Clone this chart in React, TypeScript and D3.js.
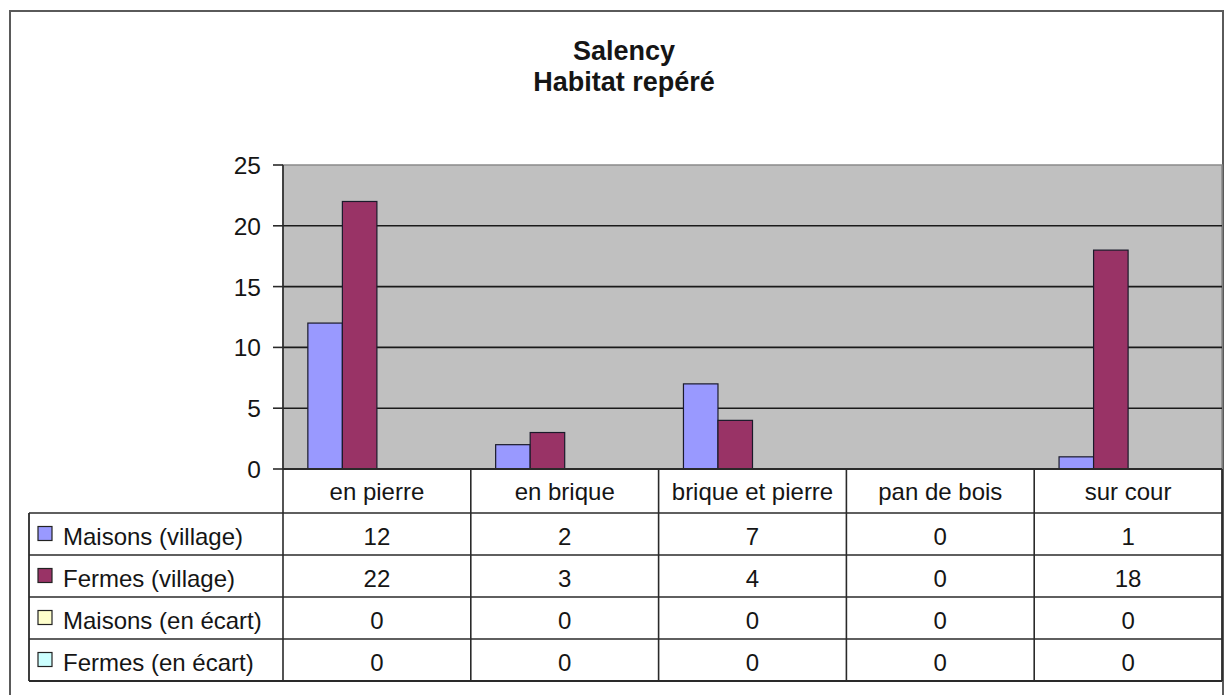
import React from "react";
import * as d3 from "d3";

const titleLines = ["Salency", "Habitat repéré"];
const categories = ["en pierre", "en brique", "brique et pierre", "pan de bois", "sur cour"];
const seriesNames = ["Maisons (village)", "Fermes (village)", "Maisons (en écart)", "Fermes (en écart)"];
const maisonsVillage = [12, 2, 7, 0, 1];
const fermesVillage = [22, 3, 4, 0, 18];
const maisonsEcart = [0, 0, 0, 0, 0];
const fermesEcart = [0, 0, 0, 0, 0];
const yTicks = [0, 5, 10, 15, 20, 25];
const seriesColors = ["#9999ff", "#993366", "#ffffcc", "#ccffff"];

const seriesValues = [maisonsVillage, fermesVillage, maisonsEcart, fermesEcart];

const W = 1226;
const H = 695;
const plot = { left: 283, right: 1222, top: 165, bottom: 469 };
const table = { left: 29, headerBottom: 513, bottom: 681 };
const FONT = "'Liberation Sans', Arial, Helvetica, sans-serif";
const TEXT = "#151515";
const LINE = "#2a2a2a";

export default function App() {
  const x = d3.scaleBand<string>().domain(categories).range([plot.left, plot.right]).padding(0);
  const xs = d3
    .scaleBand<string>()
    .domain(seriesNames)
    .range([0, x.bandwidth()])
    .paddingInner(0)
    .paddingOuter(0.72);
  const y = d3.scaleLinear().domain([0, 25]).range([plot.bottom, plot.top]);
  const rows = d3.scaleBand<string>().domain(seriesNames).range([table.headerBottom, table.bottom]);

  return (
    <svg
      width={W}
      height={H}
      style={{ position: "absolute", left: 0, top: 0, background: "#fff" }}
      fontFamily={FONT}
    >
      {/* outer chart border */}
      <rect x={10} y={11} width={1213} height={700} fill="#fff" stroke="#5a5a5a" strokeWidth={2} />

      {/* title */}
      {titleLines.map((t, i) => (
        <text
          key={t}
          x={624}
          y={60 + i * 31}
          textAnchor="middle"
          fontSize={27}
          fontWeight="bold"
          fill={TEXT}
        >
          {t}
        </text>
      ))}

      {/* plot area */}
      <rect
        x={plot.left}
        y={plot.top}
        width={plot.right - plot.left}
        height={plot.bottom - plot.top}
        fill="#c0c0c0"
        stroke="#8a8a8a"
        strokeWidth={1.5}
      />
      {yTicks
        .filter((t) => t > 0 && t < 25)
        .map((t) => (
          <line
            key={"g" + t}
            x1={plot.left}
            x2={plot.right}
            y1={y(t)}
            y2={y(t)}
            stroke="#1a1a1a"
            strokeWidth={1.6}
          />
        ))}

      {/* bars */}
      {categories.map((c, ci) =>
        seriesNames.map((s, si) => {
          const v = seriesValues[si][ci];
          if (!v) return null;
          return (
            <rect
              key={c + s}
              x={(x(c) as number) + (xs(s) as number)}
              y={y(v)}
              width={xs.bandwidth()}
              height={y(0) - y(v)}
              fill={seriesColors[si]}
              stroke="#1a1a2a"
              strokeWidth={1.2}
            />
          );
        })
      )}

      {/* y axis */}
      <line x1={plot.left} x2={plot.left} y1={plot.top} y2={plot.bottom} stroke={LINE} strokeWidth={1.6} />
      {yTicks.map((t) => (
        <g key={"t" + t}>
          <line x1={273} x2={plot.left} y1={y(t)} y2={y(t)} stroke={LINE} strokeWidth={1.6} />
          <text x={261} y={y(t) + 9} textAnchor="end" fontSize={24.5} fill={TEXT}>
            {t}
          </text>
        </g>
      ))}
      <line x1={plot.left} x2={plot.right} y1={plot.bottom} y2={plot.bottom} stroke={LINE} strokeWidth={1.8} />

      {/* data table */}
      <rect
        x={table.left}
        y={table.headerBottom}
        width={plot.right - table.left}
        height={table.bottom - table.headerBottom}
        fill="#fff"
      />
      {/* header labels */}
      {categories.map((c) => (
        <text
          key={"h" + c}
          x={(x(c) as number) + x.bandwidth() / 2}
          y={(plot.bottom + table.headerBottom) / 2 + 9}
          textAnchor="middle"
          fontSize={24}
          fill={TEXT}
        >
          {c}
        </text>
      ))}
      {/* horizontal row lines */}
      {seriesNames.map((s) => (
        <line
          key={"r" + s}
          x1={table.left}
          x2={plot.right}
          y1={rows(s) as number}
          y2={rows(s) as number}
          stroke={LINE}
          strokeWidth={1.6}
        />
      ))}
      <line x1={table.left} x2={plot.right} y1={table.bottom} y2={table.bottom} stroke={LINE} strokeWidth={1.8} />
      {/* vertical lines */}
      <line x1={table.left} x2={table.left} y1={table.headerBottom} y2={table.bottom} stroke={LINE} strokeWidth={1.8} />
      {categories.map((c) => (
        <line
          key={"v" + c}
          x1={x(c) as number}
          x2={x(c) as number}
          y1={plot.bottom}
          y2={table.bottom}
          stroke={LINE}
          strokeWidth={1.6}
        />
      ))}
      <line x1={plot.right} x2={plot.right} y1={plot.bottom} y2={table.bottom} stroke={LINE} strokeWidth={1.8} />

      {/* rows: legend key + values */}
      {seriesNames.map((s, si) => {
        const top = rows(s) as number;
        const mid = top + rows.bandwidth() / 2;
        return (
          <g key={"row" + s}>
            <rect
              x={38}
              y={mid - 7.5}
              width={14}
              height={14}
              fill={seriesColors[si]}
              stroke="#222"
              strokeWidth={1.2}
            />
            <text x={63} y={mid + 11} fontSize={24} fill={TEXT}>
              {s}
            </text>
            {categories.map((c, ci) => (
              <text
                key={s + c}
                x={(x(c) as number) + x.bandwidth() / 2}
                y={mid + 11}
                textAnchor="middle"
                fontSize={24}
                fill={TEXT}
              >
                {seriesValues[si][ci]}
              </text>
            ))}
          </g>
        );
      })}
    </svg>
  );
}
